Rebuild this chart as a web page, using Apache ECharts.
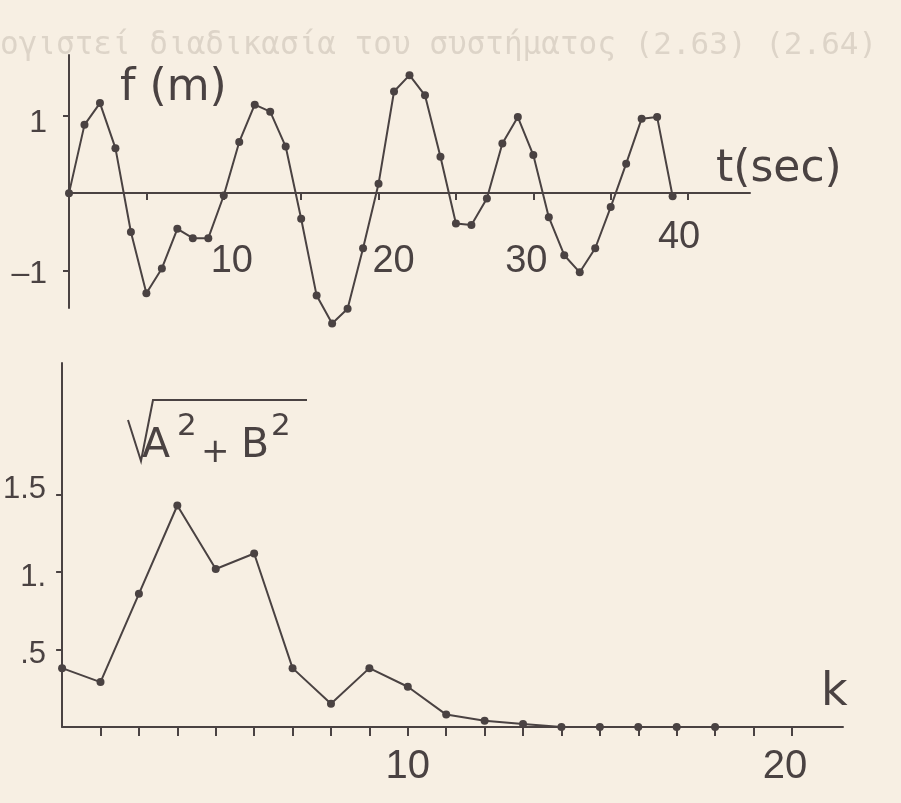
<!DOCTYPE html>
<html>
<head>
<meta charset="utf-8">
<script src="https://cdn.jsdelivr.net/npm/echarts@6/dist/echarts.min.js"></script>
<style>
html,body{margin:0;padding:0;background:#f7efe3;}
#c{width:901px;height:803px;}
</style>
</head>
<body>
<div id="c"></div>
<script>
// ---- data ----
const tSeconds = [0,1,2,3,4,5,6,7,8,9,10,11,12,13,14,15,16,17,18,19,20,21,22,23,24,25,26,27,28,29,30,31,32,33,34,35,36,37,38,39];
const fValues = [0,0.88,1.16,0.58,-0.5,-1.29,-0.97,-0.46,-0.58,-0.58,-0.03,0.66,1.14,1.05,0.6,-0.33,-1.32,-1.68,-1.49,-0.71,0.12,1.31,1.52,1.26,0.47,-0.39,-0.41,-0.07,0.64,0.98,0.49,-0.31,-0.8,-1.02,-0.71,-0.18,0.38,0.96,0.98,-0.04];
const kValues = [1,2,3,4,5,6,7,8,9,10,11,12,13,14,15,16,17,18];
const ampValues = [0.38,0.29,0.86,1.43,1.02,1.12,0.38,0.15,0.38,0.26,0.08,0.04,0.02,0.0,0.0,0.0,0.0,0.0];
const topXTicks = [5,10,15,20,25,30,35,40];
const topXLabels = [10,20,30,40];
const topYTicks = [-1,1];
const topYLabels = {'1':'1','-1':'–1'};
const botXTicks = [2,3,4,5,6,7,8,9,10,11,12,13,14,15,16,17,18,19,20];
const botXLabels = [10,20];
const botYTicks = [0.5,1,1.5];
const botYLabels = {'0.5':'.5','1':'1.','1.5':'1.5'};
const headerText = 'ογιστεί διαδικασία του συστήματος (2.63) (2.64)';

const INK = '#4a4242';
const FAINT = '#ddd4c8';
const NUMFONT = 'Liberation Sans';
const TXTFONT = 'DejaVu Sans';

const chart = echarts.init(document.getElementById('c'), null, {renderer:'canvas'});

const lineSeries = (xi, yi, xs, ys) => ({
  type:'line', xAxisIndex:xi, yAxisIndex:yi,
  data: xs.map((x,i)=>[x, ys[i]]),
  symbol:'circle', symbolSize:8, showSymbol:true,
  lineStyle:{color:INK, width:2}, itemStyle:{color:INK},
  clip:false, silent:true, animation:false, z:5
});

const option = {
  backgroundColor:'#f7efe3',
  animation:false,
  grid:[
    {left:69, top:55, width:681, height:253, containLabel:false},
    {left:62, top:363, width:781, height:364, containLabel:false}
  ],
  xAxis:[
    {type:'value', gridIndex:0, min:0, max:44, position:'bottom', offset:-115,
     axisLine:{show:true, onZero:false, lineStyle:{color:INK, width:2}},
     axisTick:{show:true, customValues:topXTicks, length:7, lineStyle:{color:INK, width:2}},
     axisLabel:{show:true, customValues:topXLabels, margin:26, color:INK,
       fontFamily:NUMFONT, fontSize:38,
       formatter:v=>'{l'+v+'|'+v+'}',
       rich:{
         l10:{fontFamily:NUMFONT, fontSize:38, color:INK, padding:[24,0,0,16]},
         l20:{fontFamily:NUMFONT, fontSize:38, color:INK, padding:[24,0,0,30]},
         l30:{fontFamily:NUMFONT, fontSize:38, color:INK, padding:[24,14,0,0]},
         l40:{fontFamily:NUMFONT, fontSize:38, color:INK, padding:[0,18,0,0]}
       }},
     splitLine:{show:false}},
    {type:'value', gridIndex:1, min:1, max:21.33,
     axisLine:{show:true, onZero:false, lineStyle:{color:INK, width:2}},
     axisTick:{show:true, customValues:botXTicks, length:9, lineStyle:{color:INK, width:2}},
     axisLabel:{show:true, customValues:botXLabels, margin:20, color:INK,
       fontFamily:NUMFONT, fontSize:40,
       formatter:v=>'{b'+v+'|'+v+'}',
       rich:{
         b10:{fontFamily:NUMFONT, fontSize:40, color:INK},
         b20:{fontFamily:NUMFONT, fontSize:40, color:INK, padding:[0,14,0,0]}
       }},
     splitLine:{show:false}}
  ],
  yAxis:[
    {type:'value', gridIndex:0, min:-1.48, max:1.78,
     axisLine:{show:true, onZero:false, lineStyle:{color:INK, width:2}},
     axisTick:{show:true, customValues:topYTicks, length:6, lineStyle:{color:INK, width:2}},
     axisLabel:{show:true, customValues:topYTicks, margin:22, color:INK,
       fontFamily:NUMFONT, fontSize:32,
       formatter:v=>(v>0?'{p|':'{m|')+topYLabels[String(v)]+'}',
       rich:{
         p:{fontFamily:NUMFONT, fontSize:32, color:INK, padding:[16,0,0,0]},
         m:{fontFamily:NUMFONT, fontSize:32, color:INK, padding:[6,0,0,0]}
       }},
     splitLine:{show:false}},
    {type:'value', gridIndex:1, min:0, max:2.35,
     axisLine:{show:true, onZero:false, lineStyle:{color:INK, width:2}},
     axisTick:{show:true, customValues:botYTicks, length:6, lineStyle:{color:INK, width:2}},
     axisLabel:{show:true, customValues:botYTicks, margin:16, color:INK,
       fontFamily:NUMFONT, fontSize:31,
       formatter:v=>(v===1.5?'{u|':'{d|')+botYLabels[String(v)]+'}',
       rich:{
         u:{fontFamily:NUMFONT, fontSize:31, color:INK, padding:[0,0,10,0]},
         d:{fontFamily:NUMFONT, fontSize:31, color:INK, padding:[10,0,0,0]}
       }},
     splitLine:{show:false}}
  ],
  series:[
    lineSeries(0,0,tSeconds,fValues),
    lineSeries(1,1,kValues,ampValues)
  ],
  graphic:[
    {type:'text', left:0, top:30, z:0, silent:true,
     style:{text:headerText, font:'31px "DejaVu Sans Mono"', fill:FAINT}},
    {type:'text', left:120, top:67, silent:true,
     style:{text:'f (m)', font:'44px "'+TXTFONT+'"', fill:INK}},
    {type:'text', left:716, top:148, silent:true,
     style:{text:'t(sec)', font:'44px "'+TXTFONT+'"', fill:INK}},
    {type:'text', left:821, top:670, silent:true,
     style:{text:'k', font:'46px "'+TXTFONT+'"', fill:INK}},
    {type:'polyline', silent:true,
     shape:{points:[[128,420],[141,461],[153,400],[307,400]]},
     style:{stroke:INK, lineWidth:2, fill:null}},
    {type:'text', left:142, top:426, silent:true,
     style:{text:'A', font:'41px "'+TXTFONT+'"', fill:INK}},
    {type:'text', left:177, top:411, silent:true,
     style:{text:'2', font:'31px "'+TXTFONT+'"', fill:INK}},
    {type:'text', left:201, top:436, silent:true,
     style:{text:'+', font:'34px "'+TXTFONT+'"', fill:INK}},
    {type:'text', left:241, top:426, silent:true,
     style:{text:'B', font:'41px "'+TXTFONT+'"', fill:INK}},
    {type:'text', left:271, top:411, silent:true,
     style:{text:'2', font:'31px "'+TXTFONT+'"', fill:INK}}
  ]
};
chart.setOption(option);
</script>
</body>
</html>
